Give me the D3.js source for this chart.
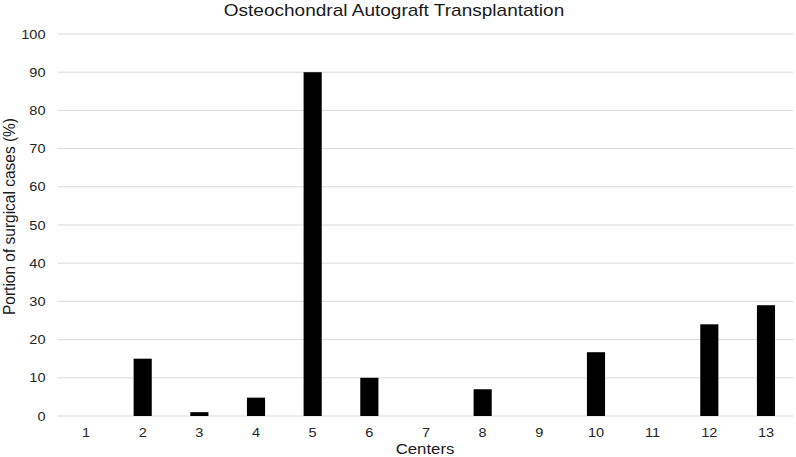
<!DOCTYPE html>
<html><head><meta charset="utf-8">
<script src="https://cdn.jsdelivr.net/npm/d3@7"></script>
<style>body{margin:0;background:#fff}svg{display:block;font-family:"Liberation Sans",Arial,sans-serif}</style>
</head><body><svg id="c" width="796" height="457"></svg>
<script>
const categories = ["1","2","3","4","5","6","7","8","9","10","11","12","13"];
const values = [0,15,1,4.8,90,10,0,7,0,16.7,0,24,29];
const yTicks = [0,10,20,30,40,50,60,70,80,90,100];
const title = "Osteochondral Autograft Transplantation";
const xTitle = "Centers";
const yTitle = "Portion of surgical cases (%)";

const svg = d3.select("#c");
const L = 57.7, R = 794.3, T = 34, B = 416;
const SX = 1.12;
const x = d3.scaleBand().domain(categories).range([L, R]).paddingInner(0.68).paddingOuter(0.34);
const y = d3.scaleLinear().domain([0,100]).range([B, T]);

svg.append("g").selectAll("line").data(yTicks).join("line")
  .attr("x1", L).attr("x2", R - 1).attr("y1", d => y(d)).attr("y2", d => y(d))
  .attr("stroke", "#d9d9d9").attr("stroke-width", 1);

svg.append("g").selectAll("text").data(yTicks).join("text")
  .attr("transform", d => `translate(45.5,${y(d)}) scale(${SX},1)`).attr("dy", "0.35em")
  .attr("text-anchor", "end").attr("font-size", 13).attr("fill", "#262626").text(d => d);

svg.append("g").selectAll("rect").data(values).join("rect")
  .attr("x", (d,i) => x(categories[i])).attr("width", x.bandwidth())
  .attr("y", d => y(d)).attr("height", d => B - y(d))
  .attr("fill", "#000");

svg.append("g").selectAll("text").data(categories).join("text")
  .attr("transform", d => `translate(${x(d) + x.bandwidth()/2},436.5) scale(${SX},1)`)
  .attr("text-anchor", "middle").attr("font-size", 13).attr("fill", "#262626").text(d => d);

svg.append("text").attr("transform", `translate(394,15.5) scale(${SX},1)`).attr("text-anchor", "middle")
  .attr("font-size", 17).attr("fill", "#1a1a1a").text(title);
svg.append("text").attr("transform", `translate(425,454) scale(${SX},1)`).attr("text-anchor", "middle")
  .attr("font-size", 15).attr("fill", "#1a1a1a").text(xTitle);
svg.append("text").attr("transform", `translate(15,216.5) rotate(-90) scale(1,${SX})`)
  .attr("text-anchor", "middle").attr("font-size", 15.5).attr("fill", "#1a1a1a").text(yTitle);
</script></body></html>
